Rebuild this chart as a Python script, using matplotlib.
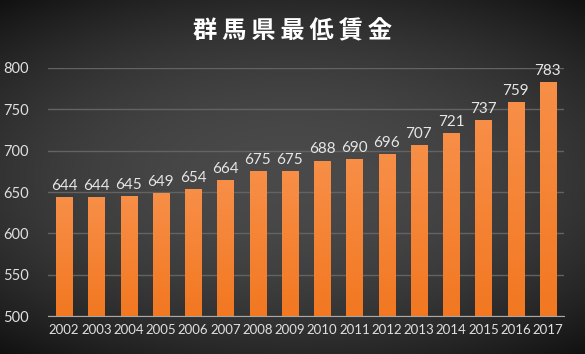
import numpy as np
import matplotlib.pyplot as plt

years = ['2002', '2003', '2004', '2005', '2006', '2007', '2008', '2009',
         '2010', '2011', '2012', '2013', '2014', '2015', '2016', '2017']
wages = [644, 644, 645, 649, 654, 664, 675, 675,
         688, 690, 696, 707, 721, 737, 759, 783]
title = '群馬県最低賃金'

plt.rcParams['font.family'] = ['Lato', 'DejaVu Sans']

fig = plt.figure(figsize=(5.85, 3.54), dpi=100)

# dark vignette background
bg = fig.add_axes([0, 0, 1, 1])
yy, xx = np.mgrid[-1:1:200j, -1:1:330j]
r = np.sqrt((xx * 0.9) ** 2 + (yy * 1.1) ** 2)
shade = 0.29 - 0.11 * np.clip(r, 0, 1.4) ** 2
bg.imshow(np.dstack([shade, shade, shade]).clip(0, 1), aspect='auto', extent=[0, 1, 0, 1])
bg.axis('off')

ax = fig.add_axes([0.082, 0.107, 0.882, 0.701])
ax.set_facecolor('none')
x = np.arange(len(years))
bars = ax.bar(x, wages, width=0.5, bottom=0, color='#f28a3c', edgecolor='#b85a1a', linewidth=0.6, zorder=3)

# vertical gradient inside each bar
grad = np.linspace(0, 1, 60)[:, None]
top_c = np.array([0.97, 0.56, 0.28])
bot_c = np.array([0.95, 0.47, 0.13])
for b in bars:
    rgb = (1 - grad) * top_c + grad * bot_c
    img = ax.imshow(rgb[:, None, :], aspect='auto', zorder=3.5,
                    extent=[b.get_x(), b.get_x() + b.get_width(), 500, b.get_height()])
    img.set_clip_path(b)

for xi, v in zip(x, wages):
    ax.text(xi, v + 5, str(v), ha='center', va='bottom', color='#e6e6e6', fontsize=11, zorder=5, clip_on=False)

ax.set_xlim(-0.5, len(years) - 0.5)
ax.set_ylim(500, 800)
ax.set_yticks(range(500, 801, 50))
ax.set_xticks(x)
ax.set_xticklabels(years)
ax.grid(axis='y', color='#636363', linewidth=1, zorder=0)
for s in ['top', 'right', 'left']:
    ax.spines[s].set_visible(False)
ax.spines['bottom'].set_color('#a8a8a8')
ax.spines['bottom'].set_zorder(4)
ax.tick_params(length=0, colors='#e0e0e0', labelsize=10.5)
ax.tick_params(axis='y', pad=14)
ax.tick_params(axis='x', pad=6, labelsize=9.5)

fig.text(0.5, 0.912, '\u2009'.join(title), ha='center', va='center', color='white', fontsize=17.5,
         fontweight='bold', family=['Noto Sans CJK JP', 'DejaVu Sans'])

fig.savefig('out.png', dpi=100)
